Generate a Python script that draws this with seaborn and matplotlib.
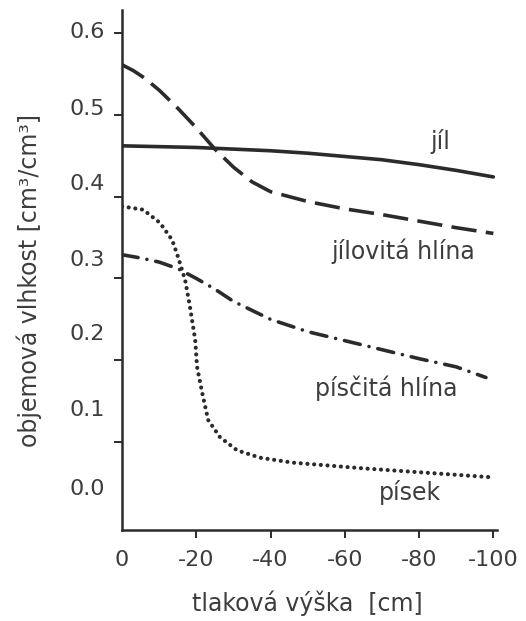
import pandas as pd
import matplotlib.pyplot as plt
import seaborn as sns

# retention curves: pressure head h [cm], water content theta [cm3/cm3]
jil_h = [0, -10, -20, -30, -40, -50, -60, -70, -80, -90, -100]
jil_theta = [0.462, 0.461, 0.460, 0.458, 0.456, 0.453, 0.449, 0.445, 0.439, 0.432, 0.424]

jilovita_h = [0, -3, -6, -10, -15, -20, -25, -30, -35, -40, -50, -60, -70, -80, -90, -100]
jilovita_theta = [0.561, 0.554, 0.545, 0.530, 0.508, 0.484, 0.458, 0.436, 0.418, 0.406,
                  0.394, 0.385, 0.378, 0.370, 0.362, 0.355]

piscita_h = [0, -5, -10, -15, -20, -25, -30, -35, -40, -50, -60, -70, -80, -90, -98]
piscita_theta = [0.329, 0.325, 0.320, 0.312, 0.300, 0.287, 0.272, 0.261, 0.250,
                 0.235, 0.224, 0.213, 0.202, 0.192, 0.179]

pisek_h = [0, -5.7, -10.2, -13.5, -15.1, -17, -18.3, -19.7, -20.2, -21.6, -23.2,
           -26.4, -31, -37.2, -46, -65, -100]
pisek_theta = [0.388, 0.384, 0.368, 0.347, 0.326, 0.298, 0.265, 0.225, 0.192, 0.160,
               0.127, 0.106, 0.090, 0.081, 0.075, 0.068, 0.057]

soils = ['jíl', 'jílovitá hlína', 'písčitá hlína', 'písek']

# where the curve names sit (data coords)
name_h = [-85.7, -75.7, -71.2, -77.6]
name_theta = [0.467, 0.333, 0.166, 0.038]

x_ticks = [0, -20, -40, -60, -80, -100]
x_tick_labels = ['0', '-20', '-40', '-60', '-80', '-100']
y_ticks = [0.1, 0.2, 0.3, 0.4, 0.5, 0.6]
y_tick_labels = ['0.6', '0.5', '0.4', '0.3', '0.2', '0.1', '0.0']
# in the scan the y labels do not line up with the tick marks
y_label_pos = [0.604, 0.510, 0.418, 0.325, 0.234, 0.142, 0.045]


def main():
    sns.set_theme(style='ticks')
    plt.rcParams['font.family'] = ['DejaVu Sans']
    plt.rcParams['axes.unicode_minus'] = False

    ink = '#2b2b2b'
    text_col = '#3d3d3d'

    frames = []
    for name, h, t in zip(soils, [jil_h, jilovita_h, piscita_h, pisek_h],
                          [jil_theta, jilovita_theta, piscita_theta, pisek_theta]):
        frames.append(pd.DataFrame({'h': h, 'theta': t, 'soil': name}))
    df = pd.concat(frames, ignore_index=True)

    dashes = {
        'jíl': '',
        'jílovitá hlína': (7, 2.6),
        'písčitá hlína': (4.5, 2.5, 0.01, 2.5),
        'písek': (0.01, 1.6),
    }

    fig, ax = plt.subplots(figsize=(5.26, 6.21), dpi=100)
    fig.subplots_adjust(left=0.232, right=0.945, bottom=0.1465, top=0.984)

    sns.lineplot(data=df, x='h', y='theta', style='soil', style_order=soils,
                 dashes=dashes, color=ink, linewidth=2.6, estimator=None,
                 sort=False, legend=False, ax=ax)

    # round caps so the dots look like dots
    for line, name in zip(ax.lines, soils):
        if name in ('písčitá hlína', 'písek'):
            line.set_dash_capstyle('round')
        if name == 'písek':
            line.set_linewidth(3.0)

    for name, x, y in zip(soils, name_h, name_theta):
        ax.text(x, y, name, ha='center', va='center', fontsize=17, color=text_col)

    ax.set_xlim(0, -101)
    ax.set_ylim(-0.0073, 0.628)

    ax.set_xticks(x_ticks, labels=x_tick_labels)
    ax.xaxis.get_major_ticks()[0].tick1line.set_visible(False)
    ax.set_yticks(y_ticks, minor=True)
    ax.set_yticks(y_label_pos, labels=y_tick_labels)

    ax.tick_params(axis='x', which='major', direction='out', length=6, width=1.4,
                   color=ink, pad=8.5, labelsize=16, labelcolor=text_col)
    ax.tick_params(axis='y', which='major', length=0, pad=12,
                   labelsize=16, labelcolor=text_col)
    ax.tick_params(axis='y', which='minor', direction='out', length=6, width=1.4,
                   color=ink)

    sns.despine(ax=ax)
    for side in ['left', 'bottom']:
        ax.spines[side].set_linewidth(1.8)
        ax.spines[side].set_color(ink)

    ax.set_xlabel('tlaková výška  [cm]', fontsize=17, color=text_col)
    ax.xaxis.set_label_coords(0.493, -0.117)
    ax.set_ylabel('objemová vlhkost [cm³/cm³]', fontsize=17, color=text_col, va='center')
    ax.yaxis.set_label_coords(-0.247, 0.479)

    fig.savefig('out.png', dpi=100)


if __name__ == '__main__':
    main()
